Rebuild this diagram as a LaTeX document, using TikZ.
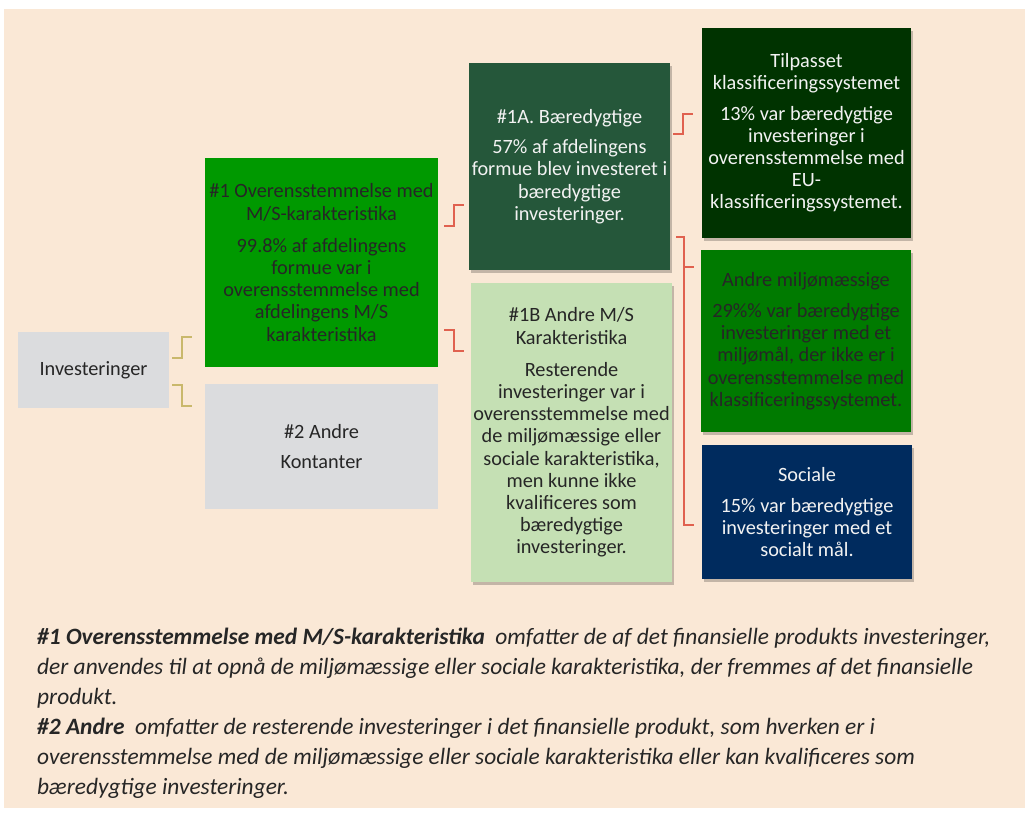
\documentclass[tikz,border=0pt]{standalone}
\usepackage{fontspec}
\setmainfont{Carlito}
\usetikzlibrary{calc,shadows}
\definecolor{bgc}{HTML}{FAE8D6}
\definecolor{grayc}{HTML}{DBDCDE}
\definecolor{greenA}{HTML}{009900}
\definecolor{darkgreenB}{HTML}{25573A}
\definecolor{lightgreen}{HTML}{C5E0B4}
\definecolor{deepgreen}{HTML}{003300}
\definecolor{midgreen}{HTML}{007A00}
\definecolor{navyc}{HTML}{002B5E}
\definecolor{darktext}{HTML}{262626}
\definecolor{lighttext}{HTML}{F2F2F2}
\definecolor{goldc}{HTML}{C9B86C}
\definecolor{redc}{HTML}{E0614F}
\begin{document}
\begin{tikzpicture}[x=1pt,y=-1pt,
  box/.style={rectangle, inner sep=0pt, align=center, text=darktext,
    font=\fontsize{20.3}{22.2}\selectfont},
  shade box/.style={drop shadow={shadow xshift=2pt, shadow yshift=-3pt, opacity=.22, fill=black}},
  goldline/.style={draw=goldc, line width=1.8pt},
  redline/.style={draw=redc, line width=1.6pt},
  foot/.style={anchor=base west, inner sep=0pt, text=darktext,
    font=\fontsize{23.4}{30}\selectfont\itshape}]
\useasboundingbox (0,0) rectangle (1025,814);
\fill[bgc] (4,9) rectangle (1025,808);

% boxes
\node[box, fill=grayc, minimum width=151pt, minimum height=76pt] (inv) at (93.5,370) {Investeringer};
\node[box, fill=greenA, minimum width=233pt, minimum height=209pt] (g1) at (321.5,262.5)
  {\#1 Overensstemmelse med\\M/S-karakteristika\\[10pt]99.8\% af afdelingens\\formue var i\\overensstemmelse med\\afdelingens M/S\\karakteristika};
\node[box, fill=grayc, minimum width=233pt, minimum height=125pt] (a2) at (321.5,446.5)
  {\#2 Andre\\[8pt]Kontanter};
\node[box, fill=darkgreenB, text=lighttext, shade box, minimum width=201pt, minimum height=207pt] (n1a) at (569.5,166.5)
  {\#1A. Bæredygtige\\[8pt]57\% af afdelingens\\formue blev investeret i\\bæredygtige\\investeringer.};
\node[box, fill=lightgreen, shade box, minimum width=201pt, minimum height=299pt] (n1b) at (571.5,432.5)
  {\#1B Andre M/S\\Karakteristika\\[10pt]Resterende\\investeringer var i\\overensstemmelse med\\de miljømæssige eller\\sociale karakteristika,\\men kunne ikke\\kvalificeres som\\bæredygtige\\investeringer.};
\node[box, fill=deepgreen, text=lighttext, shade box, minimum width=209pt, minimum height=210pt] (tilp) at (806.5,133)
  {Tilpasset\\klassificeringssystemet\\[8pt]13\% var bæredygtige\\investeringer i\\overensstemmelse med\\EU-\\klassificeringssystemet.};
\node[box, fill=midgreen, shade box, minimum width=210pt, minimum height=182pt] (miljo) at (806,341)
  {Andre miljømæssige\\[9pt]29\%\% var bæredygtige\\investeringer med et\\miljømål, der ikke er i\\overensstemmelse med\\klassificeringssystemet.};
\node[box, fill=navyc, text=lighttext, shade box, minimum width=210pt, minimum height=134pt] (soc) at (807,512)
  {Sociale\\[9pt]15\% var bæredygtige\\investeringer med et\\socialt mål.};

% connectors
\draw[goldline] ($(inv.east)+(3,-12)$) -- ++(10,0) |- ($(g1.west)+(-13,74.5)$);
\draw[goldline] ($(inv.east)+(3,15)$) -- ++(10,0) |- ($(a2.west)+(-13,-40.5)$);
\draw[redline] ($(g1.east)+(6,-36.5)$) -- ++(10,0) |- ($(n1a.west)+(-5,38.5)$);
\draw[redline] ($(g1.east)+(6,67.5)$) -- ++(10,0) |- ($(n1b.west)+(-7,-81.5)$);
\draw[redline] ($(n1a.east)+(3,-32.5)$) -- ++(10,0) |- ($(tilp.west)+(-9,-19)$);
\draw[redline] ($(n1a.east)+(6,70.5)$) -- ++(8,0) coordinate (rb) |- ($(soc.west)+(-8,13)$);
\coordinate (tk) at ($(miljo.west)+(-7,-74)$);
\draw[redline] (rb |- tk) -- (tk);

% footnote text
\node[foot] (f1) at (37,644) {\textbf{\#1 Overensstemmelse med M/S-karakteristika}\ \ omfatter de af det finansielle produkts investeringer,};
\node[foot] (f2) at (37,674) {der anvendes til at opnå de miljømæssige eller sociale karakteristika, der fremmes af det finansielle};
\node[foot] (f3) at (37,704) {produkt.};
\node[foot] (f4) at (37,734) {\textbf{\#2 Andre}\ \ omfatter de resterende investeringer i det finansielle produkt, som hverken er i};
\node[foot] (f5) at (37,764) {overensstemmelse med de miljømæssige eller sociale karakteristika eller kan kvalificeres som};
\node[foot] (f6) at (37,794) {bæredygtige investeringer.};
\end{tikzpicture}
\end{document}
